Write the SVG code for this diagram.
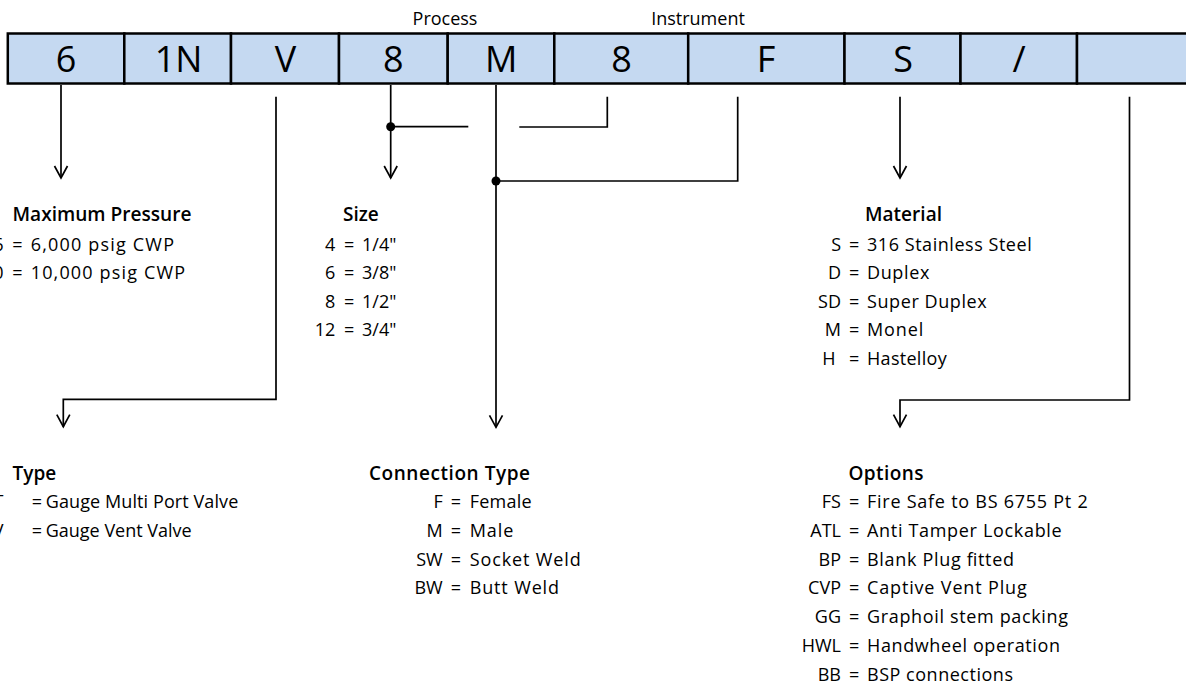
<svg xmlns="http://www.w3.org/2000/svg" width="1186" height="686" viewBox="0 0 1186 686">
<defs>
<marker id="arr" markerUnits="userSpaceOnUse" markerWidth="18" markerHeight="18" viewBox="-2 -2 18 18" refX="12" refY="6.5" orient="auto" overflow="visible">
<path d="M0,0 L12,6.5 L0,13" fill="none" stroke="#000" stroke-width="1.7"/>
</marker>
</defs>
<style>
text{font-family:"Open Sans","Noto Sans","DejaVu Sans",sans-serif;fill:#000}
.cell rect{fill:#c5d9f1;stroke:#000;stroke-width:2.5}
.big{font-size:36px;text-anchor:middle}
.lbl{font-size:18px;text-anchor:middle}
.h{font-size:19px;font-weight:600}
.t{font-size:18px}
.k{font-size:18px;text-anchor:end}
.c{fill:none;stroke:#000;stroke-width:1.7}
.a{marker-end:url(#arr)}
.dot{fill:#000}
</style>
<rect width="1186" height="686" fill="#fff"/>

<g id="labels">
<text class="lbl" x="445" y="25">Process</text>
<text class="lbl" x="698" y="25">Instrument</text>
</g>

<g id="cell-6" class="cell"><rect x="7.8" y="33.5" width="116.5" height="50"/><text class="big" x="66" y="72">6</text></g>
<g id="cell-1N" class="cell"><rect x="124.3" y="33.5" width="106.7" height="50"/><text class="big" x="178.5" y="72">1N</text></g>
<g id="cell-V" class="cell"><rect x="231" y="33.5" width="108" height="50"/><text class="big" x="285.5" y="72">V</text></g>
<g id="cell-8a" class="cell"><rect x="339" y="33.5" width="108.7" height="50"/><text class="big" x="393.3" y="72">8</text></g>
<g id="cell-M" class="cell"><rect x="447.7" y="33.5" width="106.6" height="50"/><text class="big" x="501.3" y="72">M</text></g>
<g id="cell-8b" class="cell"><rect x="554.3" y="33.5" width="133.9" height="50"/><text class="big" x="621.5" y="72">8</text></g>
<g id="cell-F" class="cell"><rect x="688.2" y="33.5" width="156.3" height="50"/><text class="big" x="766" y="72">F</text></g>
<g id="cell-S" class="cell"><rect x="844.5" y="33.5" width="116" height="50"/><text class="big" x="903" y="72">S</text></g>
<g id="cell-slash" class="cell"><rect x="960.5" y="33.5" width="116.5" height="50"/><text class="big" x="1019" y="72">/</text></g>
<g id="cell-blank" class="cell"><rect x="1077" y="33.5" width="115" height="50"/></g>

<g id="connectors">
<path class="c a" d="M61,85 V178"/>
<path class="c a" d="M276,96.7 V399.3 H63.3 V426.7"/>
<path class="c a" d="M390.7,85 V178"/>
<path class="c" d="M390.7,126.7 H468.3"/>
<path class="c" d="M607.3,96.7 V127 H519.3"/>
<path class="c a" d="M496,85 V427.3"/>
<path class="c" d="M737.7,96.7 V181 H496"/>
<path class="c a" d="M900,96.7 V178"/>
<path class="c a" d="M1129.5,96.7 V400 H900 V426.7"/>
<circle class="dot" cx="390.7" cy="126.7" r="4.5"/>
<circle class="dot" cx="496" cy="181" r="4.5"/>
</g>

<g id="pressure">
<text class="h" x="12.5" y="220.7" textLength="179" lengthAdjust="spacingAndGlyphs">Maximum Pressure</text>
<text class="k" x="3.5" y="250.7">6</text><text class="t" x="12.3" y="250.7">=</text><text class="t" x="30.7" y="250.7" textLength="143.3">6,000 psig CWP</text>
<text class="k" x="3.5" y="279.2">10</text><text class="t" x="12.3" y="279.2">=</text><text class="t" x="30.7" y="279.2" textLength="154.3">10,000 psig CWP</text>
</g>

<g id="size">
<text class="h" x="343" y="220.7">Size</text>
<text class="k" x="335.3" y="250.7">4</text><text class="t" x="344" y="250.7">=</text><text class="t" x="362" y="250.7">1/4"</text>
<text class="k" x="335.3" y="279.2">6</text><text class="t" x="344" y="279.2">=</text><text class="t" x="362" y="279.2">3/8"</text>
<text class="k" x="335.3" y="307.7">8</text><text class="t" x="344" y="307.7">=</text><text class="t" x="362" y="307.7">1/2"</text>
<text class="k" x="335.3" y="336.2">12</text><text class="t" x="344" y="336.2">=</text><text class="t" x="362" y="336.2">3/4"</text>
</g>

<g id="material">
<text class="h" x="865" y="220.7" textLength="77">Material</text>
<text class="k" x="841" y="250.7">S</text><text class="t" x="849" y="250.7">=</text><text class="t" x="867" y="250.7" textLength="164.7">316 Stainless Steel</text>
<text class="k" x="841" y="279.2">D</text><text class="t" x="849" y="279.2">=</text><text class="t" x="867" y="279.2" textLength="62.3">Duplex</text>
<text class="k" x="841" y="307.7">SD</text><text class="t" x="849" y="307.7">=</text><text class="t" x="867" y="307.7" textLength="119.7">Super Duplex</text>
<text class="k" x="841" y="336.2">M</text><text class="t" x="849" y="336.2">=</text><text class="t" x="867" y="336.2" textLength="56.3">Monel</text>
<text class="k" x="835.5" y="364.7">H</text><text class="t" x="849" y="364.7">=</text><text class="t" x="867" y="364.7" textLength="79.7">Hastelloy</text>
</g>

<g id="type">
<text class="h" x="12.5" y="480">Type</text>
<text class="k" x="3.5" y="508.3">T</text><text class="t" x="31.7" y="508.3">=</text><text class="t" x="45.7" y="508.3" textLength="192.6">Gauge Multi Port Valve</text>
<text class="k" x="3.5" y="536.8">V</text><text class="t" x="31.7" y="536.8">=</text><text class="t" x="45.7" y="536.8" textLength="146">Gauge Vent Valve</text>
</g>

<g id="connection">
<text class="h" x="369" y="480" textLength="161">Connection Type</text>
<text class="k" x="442.7" y="508.3">F</text><text class="t" x="450.7" y="508.3">=</text><text class="t" x="469.7" y="508.3" textLength="62">Female</text>
<text class="k" x="442.7" y="537">M</text><text class="t" x="450.7" y="537">=</text><text class="t" x="469.7" y="537" textLength="43.6">Male</text>
<text class="k" x="442.7" y="565.6">SW</text><text class="t" x="450.7" y="565.6">=</text><text class="t" x="469.7" y="565.6" textLength="111">Socket Weld</text>
<text class="k" x="442.7" y="594.2">BW</text><text class="t" x="450.7" y="594.2">=</text><text class="t" x="469.7" y="594.2" textLength="89.3">Butt Weld</text>
</g>

<g id="options">
<text class="h" x="848.5" y="480" textLength="75">Options</text>
<text class="k" x="841" y="508.3">FS</text><text class="t" x="849" y="508.3">=</text><text class="t" x="867" y="508.3" textLength="220.7">Fire Safe to BS 6755 Pt 2</text>
<text class="k" x="841" y="537">ATL</text><text class="t" x="849" y="537">=</text><text class="t" x="867" y="537" textLength="194.7">Anti Tamper Lockable</text>
<text class="k" x="841" y="565.7">BP</text><text class="t" x="849" y="565.7">=</text><text class="t" x="867" y="565.7" textLength="147">Blank Plug fitted</text>
<text class="k" x="841" y="594.4">CVP</text><text class="t" x="849" y="594.4">=</text><text class="t" x="867" y="594.4" textLength="159.7">Captive Vent Plug</text>
<text class="k" x="841" y="623.1">GG</text><text class="t" x="849" y="623.1">=</text><text class="t" x="867" y="623.1" textLength="201">Graphoil stem packing</text>
<text class="k" x="841" y="651.8">HWL</text><text class="t" x="849" y="651.8">=</text><text class="t" x="867" y="651.8" textLength="193">Handwheel operation</text>
<text class="k" x="841" y="680.5">BB</text><text class="t" x="849" y="680.5">=</text><text class="t" x="867" y="680.5" textLength="146">BSP connections</text>
</g>
</svg>
